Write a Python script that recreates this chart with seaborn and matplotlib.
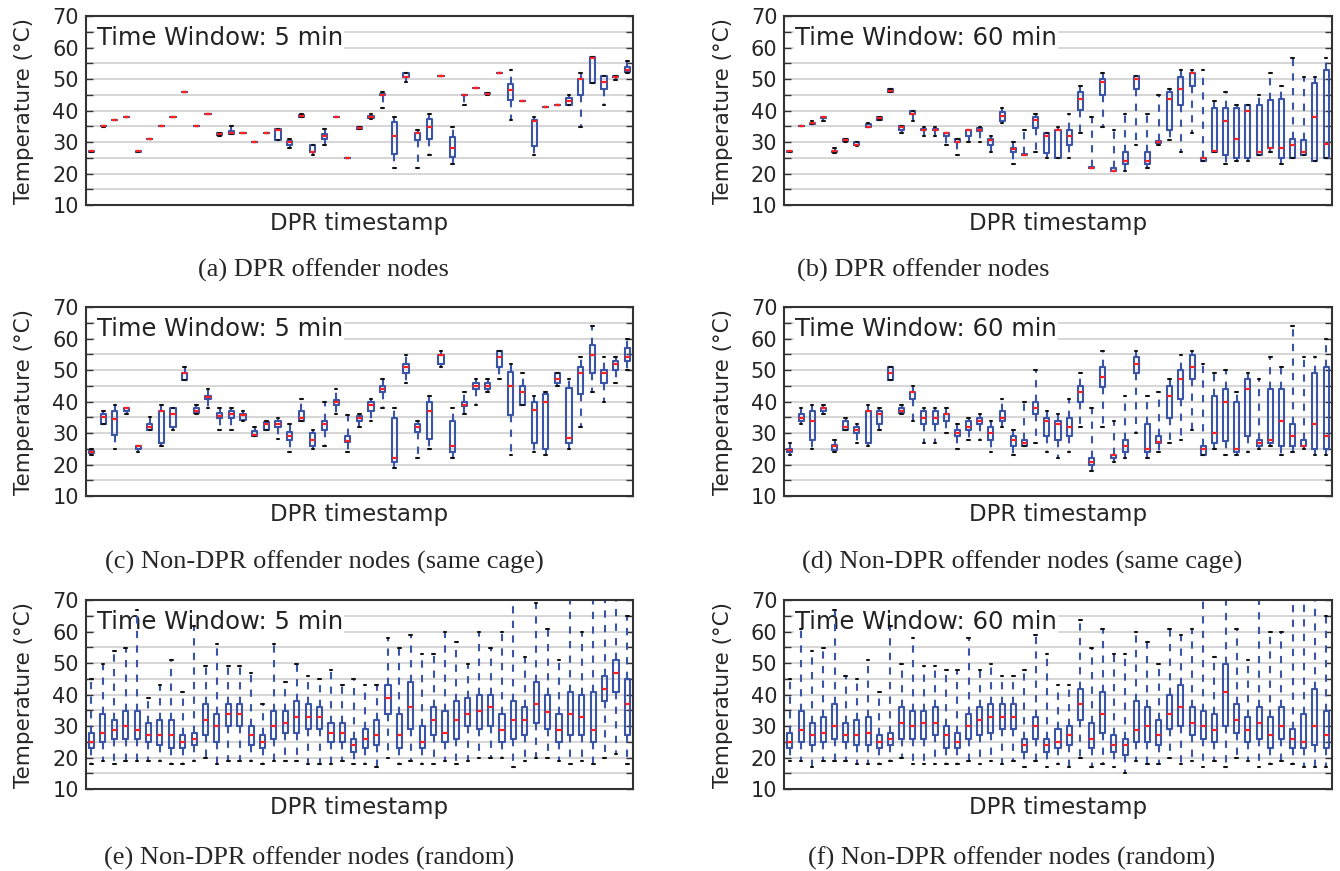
import matplotlib
matplotlib.use("Agg")
import matplotlib.pyplot as plt
import pandas as pd
import seaborn as sns

# one row per DPR timestamp: (whisker low, q1, median, q3, whisker high) in degC
dpr_5min = [
    (26.8, 26.9, 27.0, 27.1, 27.2), (34.9, 35.0, 35.0, 35.0, 35.1), (37, 37, 37, 37, 37),
    (38, 38, 38, 38, 38), (26.7, 26.8, 27.0, 27.2, 27.3), (31, 31, 31, 31, 31),
    (35, 35, 35, 35, 35), (38, 38, 38, 38, 38), (46, 46, 46, 46, 46),
    (35, 35, 35, 35, 35), (39, 39, 39, 39, 39), (32.0, 32.1, 32.4, 32.9, 33.0),
    (32.4, 32.6, 33.0, 33.5, 35.0), (33, 33, 33, 33, 33), (30, 30, 30, 30, 30),
    (33, 33, 33, 33, 33), (30.7, 30.7, 33.8, 34.0, 34.0), (28.0, 28.9, 30.0, 30.4, 30.9),
    (38.0, 38.1, 38.4, 38.7, 38.8), (26.0, 26.9, 26.9, 29.0, 29.0), (28.9, 30.9, 31.9, 32.5, 34.0),
    (38, 38, 38, 38, 38), (25, 25, 25, 25, 25), (34.0, 34.2, 34.4, 34.7, 34.8),
    (37.2, 37.6, 38.0, 38.4, 38.8), (40.9, 44.9, 45.0, 45.1, 45.9), (21.9, 26.3, 31.9, 36.4, 37.8),
    (48.9, 50.7, 50.8, 51.9, 52.0), (21.9, 30.8, 32.8, 33.0, 33.9), (25.9, 31.0, 34.8, 37.4, 38.8),
    (51, 51, 51, 51, 51), (22.9, 25.3, 28.0, 31.5, 34.8), (41.8, 44.9, 45.0, 45.0, 45.0),
    (47, 47, 47, 47, 47), (44.9, 45.1, 45.3, 45.5, 45.7), (52, 52, 52, 52, 52),
    (37.0, 43.5, 46.4, 48.5, 52.8), (43, 43, 43, 43, 43), (25.9, 28.8, 36.8, 36.9, 37.8),
    (41, 41, 41, 41, 41), (41.8, 41.8, 41.8, 41.8, 41.8), (41.7, 41.7, 43.0, 44.0, 44.9),
    (34.8, 44.8, 50.0, 50.1, 51.9), (48.8, 48.8, 56.8, 56.9, 56.9), (41.8, 46.7, 48.9, 50.9, 50.9),
    (49.8, 50.6, 50.8, 51.0, 51.0), (51.9, 52.2, 53.0, 53.8, 55.8),
]

dpr_60min = [
    (26.7, 26.8, 27.0, 27.1, 27.2), (35, 35, 35, 35, 35), (35.7, 35.8, 35.9, 36.1, 36.8),
    (36.8, 37.7, 37.9, 38.0, 38.0), (26.5, 26.7, 27.0, 27.3, 28.1), (30.0, 30.3, 30.8, 31.1, 31.1),
    (28.8, 28.9, 29.0, 30.0, 30.0), (34.7, 34.8, 34.8, 35.8, 35.9), (37.0, 37.0, 37.6, 37.8, 37.8),
    (45.9, 46.0, 46.2, 46.8, 46.8), (32.8, 33.9, 34.8, 35.0, 35.0), (36.8, 38.8, 38.9, 40.0, 40.0),
    (31.9, 33.8, 33.9, 34.0, 34.8), (31.9, 33.8, 33.9, 34.0, 34.8), (28.9, 31.8, 32.8, 32.9, 32.9),
    (25.9, 29.9, 30.0, 30.9, 30.9), (30.0, 31.9, 33.8, 33.9, 33.9), (30.0, 33.5, 33.9, 34.3, 34.8),
    (26.9, 28.9, 30.8, 30.9, 31.9), (35.9, 36.8, 38.4, 39.5, 40.9), (22.9, 26.9, 27.9, 28.0, 30.0),
    (25.8, 25.9, 26.0, 26.1, 33.9), (26.9, 34.3, 37.0, 37.9, 38.9), (25.0, 26.4, 31.9, 32.8, 32.8),
    (24.9, 24.9, 33.8, 33.9, 34.8), (24.9, 28.9, 31.9, 33.9, 38.9), (32.8, 40.3, 43.8, 45.8, 47.8),
    (21.8, 21.9, 21.9, 22.0, 37.8), (34.8, 44.8, 48.9, 49.9, 51.9), (20.8, 20.9, 20.9, 21.9, 33.9),
    (20.9, 22.9, 24.0, 26.9, 38.9), (28.9, 46.8, 49.9, 50.9, 50.9), (21.9, 22.9, 24.0, 26.9, 38.9),
    (28.9, 29.8, 30.0, 30.2, 44.8), (30.8, 33.9, 43.8, 45.8, 46.8), (26.9, 41.8, 46.9, 50.8, 52.8),
    (32.8, 47.9, 51.9, 51.9, 52.8), (24.0, 24.0, 24.9, 24.9, 52.8), (26.9, 26.9, 27.0, 40.9, 42.9),
    (22.9, 26.0, 36.8, 40.9, 45.8), (24.0, 24.9, 30.9, 40.9, 41.8), (24.0, 24.9, 39.9, 41.8, 41.8),
    (26.0, 26.0, 26.9, 41.8, 44.9), (26.9, 28.0, 28.0, 43.4, 51.9), (22.9, 24.9, 28.0, 43.8, 47.8),
    (24.9, 24.9, 28.9, 30.9, 56.7), (26.0, 26.0, 26.9, 30.6, 50.8), (24.0, 24.0, 37.9, 48.8, 50.8),
    (24.9, 24.9, 29.5, 52.8, 56.7),
]

cage_5min = [
    (23.0, 23.6, 24.0, 24.4, 24.9), (32.9, 32.9, 35.0, 36.0, 36.9), (24.9, 29.4, 34.5, 36.9, 38.9),
    (36.0, 36.9, 37.9, 38.0, 38.0), (24.0, 24.9, 25.9, 26.0, 26.0), (30.9, 30.9, 31.9, 32.9, 35.0),
    (26.0, 26.7, 36.9, 36.9, 38.9), (30.9, 31.9, 36.0, 38.0, 38.0), (46.9, 46.9, 48.9, 49.0, 50.9),
    (36.0, 36.4, 36.9, 37.9, 38.9), (38.0, 40.9, 41.5, 41.9, 43.9), (30.9, 34.9, 35.4, 36.4, 38.0),
    (30.9, 34.9, 36.0, 36.9, 38.0), (33.9, 34.0, 35.8, 36.0, 36.9), (29.0, 29.0, 29.5, 30.6, 31.9),
    (31.0, 31.0, 32.9, 33.5, 33.9), (28.0, 31.9, 32.9, 33.9, 34.9), (23.9, 27.9, 29.0, 30.4, 32.9),
    (33.9, 33.9, 34.9, 36.9, 40.9), (24.9, 25.8, 27.9, 30.0, 30.9), (26.0, 30.9, 32.9, 33.9, 40.0),
    (36.0, 38.9, 40.0, 40.4, 43.9), (24.0, 27.0, 27.4, 29.0, 35.8), (31.9, 33.9, 34.9, 35.3, 35.9),
    (33.9, 36.9, 38.9, 40.0, 40.9), (38.0, 42.9, 43.9, 45.0, 47.0), (19.0, 20.9, 22.0, 34.9, 38.0),
    (45.9, 48.9, 50.9, 51.9, 54.9), (22.0, 30.4, 31.9, 32.9, 33.9), (24.9, 28.1, 36.9, 39.7, 41.9),
    (50.9, 51.9, 54.8, 54.9, 55.9), (22.0, 24.0, 26.0, 33.9, 38.0), (36.0, 38.5, 38.9, 40.0, 42.9),
    (38.9, 43.9, 45.0, 45.9, 47.0), (42.9, 43.9, 45.0, 45.9, 47.0), (47.0, 50.9, 54.0, 55.9, 56.0),
    (23.0, 35.8, 45.0, 49.4, 51.9), (38.9, 38.9, 42.9, 45.0, 49.0), (24.0, 26.8, 37.4, 40.0, 41.9),
    (23.0, 24.9, 40.0, 42.4, 42.9), (45.0, 45.9, 47.0, 49.0, 49.0), (24.9, 26.8, 28.5, 44.4, 47.0),
    (31.9, 42.4, 49.0, 51.1, 54.0), (42.9, 49.0, 54.9, 58.0, 64.0), (40.0, 45.9, 49.0, 49.9, 54.0),
    (45.9, 49.9, 51.9, 52.9, 54.0), (49.9, 52.9, 54.0, 56.9, 59.9),
]

cage_60min = [
    (23.0, 24.0, 24.5, 24.9, 26.9), (32.9, 33.9, 34.9, 36.0, 38.0), (24.9, 27.9, 33.9, 36.9, 38.9),
    (36.0, 36.9, 37.9, 38.0, 38.9), (24.0, 24.5, 25.8, 26.2, 27.9), (30.9, 30.9, 31.9, 33.9, 34.9),
    (26.9, 29.9, 30.9, 31.9, 32.9), (26.0, 26.8, 36.9, 36.9, 38.9), (30.9, 32.9, 36.0, 36.9, 38.0),
    (46.9, 46.9, 49.0, 50.9, 50.9), (36.0, 36.4, 36.9, 38.0, 38.9), (33.9, 40.9, 42.9, 42.9, 45.0),
    (26.9, 32.9, 34.9, 36.9, 38.0), (26.9, 32.9, 34.9, 36.9, 38.0), (29.9, 33.9, 36.0, 36.0, 38.0),
    (24.9, 29.0, 29.9, 30.9, 32.9), (27.9, 30.9, 31.9, 33.9, 34.9), (27.9, 32.9, 33.9, 34.9, 36.0),
    (24.0, 27.9, 29.9, 31.9, 33.9), (31.9, 33.9, 34.9, 36.9, 40.9), (23.0, 26.0, 27.9, 29.0, 30.9),
    (26.0, 26.0, 26.9, 27.9, 40.0), (26.9, 36.0, 38.0, 40.0, 49.9), (24.0, 29.0, 33.9, 34.9, 36.9),
    (22.0, 27.9, 32.9, 33.9, 36.0), (24.0, 29.0, 31.9, 34.9, 40.9), (31.9, 40.0, 42.9, 45.0, 49.0),
    (17.9, 20.0, 20.9, 22.0, 38.0), (31.9, 44.6, 47.9, 50.9, 55.9), (20.9, 22.0, 22.9, 23.0, 33.9),
    (22.0, 24.0, 26.0, 27.9, 41.9), (29.9, 48.9, 51.9, 54.0, 55.9), (22.0, 24.0, 24.9, 32.9, 41.9),
    (24.0, 26.9, 27.0, 29.0, 42.9), (26.9, 34.9, 41.9, 45.0, 47.0), (27.9, 40.9, 47.0, 49.9, 54.9),
    (30.9, 47.0, 50.9, 54.9, 55.9), (23.0, 23.0, 24.9, 26.0, 51.9), (24.9, 26.8, 29.9, 41.9, 49.0),
    (23.0, 27.5, 40.0, 43.9, 49.9), (23.0, 24.0, 24.9, 40.0, 42.9), (24.0, 29.0, 43.9, 47.0, 49.0),
    (24.9, 26.0, 26.9, 27.9, 47.0), (26.0, 26.9, 27.9, 43.9, 54.0), (23.0, 26.0, 33.9, 43.9, 50.9),
    (24.0, 26.0, 29.0, 32.9, 64.0), (24.9, 26.0, 26.0, 27.9, 54.0), (23.0, 24.9, 32.9, 49.0, 54.0),
    (23.0, 24.9, 29.0, 50.9, 59.9),
]

random_5min = [
    (17.9, 22.9, 24.9, 27.9, 44.9), (19.0, 24.9, 27.9, 33.9, 49.8), (17.9, 25.9, 28.9, 31.9, 53.9),
    (19.0, 25.9, 29.9, 34.9, 54.8), (19.0, 25.9, 28.9, 34.9, 66.9), (19.0, 24.9, 27.0, 31.0, 38.9),
    (19.0, 24.0, 27.0, 31.9, 42.9), (17.9, 22.9, 27.0, 31.9, 50.9), (17.9, 22.9, 24.9, 27.0, 40.9),
    (19.0, 24.0, 25.9, 27.9, 61.8), (20.0, 27.0, 31.9, 36.9, 48.9), (17.9, 24.9, 29.9, 33.9, 55.9),
    (19.0, 29.9, 33.9, 36.9, 48.9), (19.0, 29.9, 33.9, 36.9, 48.9), (19.0, 24.0, 27.0, 29.9, 46.9),
    (17.9, 22.9, 24.9, 27.0, 36.9), (19.0, 25.9, 29.9, 34.9, 55.9), (19.0, 27.9, 31.0, 34.9, 43.9),
    (19.0, 27.9, 33.0, 37.9, 49.8), (17.9, 29.0, 33.0, 36.9, 45.9), (17.9, 29.0, 33.0, 36.0, 44.9),
    (17.9, 24.9, 27.9, 31.0, 47.9), (19.0, 24.9, 27.9, 31.0, 42.9), (17.9, 21.9, 24.0, 25.9, 44.9),
    (17.9, 22.9, 25.9, 29.0, 42.9), (17.1, 24.0, 27.0, 31.9, 42.9), (20.0, 33.9, 38.9, 42.9, 57.9),
    (17.9, 22.9, 27.0, 33.9, 54.8), (19.0, 29.0, 36.0, 43.9, 58.9), (17.9, 22.9, 24.9, 29.9, 52.9),
    (17.9, 27.0, 31.9, 36.0, 52.9), (19.0, 24.9, 27.9, 34.9, 59.8), (17.9, 25.9, 31.9, 37.9, 56.8),
    (19.0, 29.9, 33.9, 38.9, 49.8), (20.0, 29.0, 34.9, 39.9, 59.8), (20.0, 29.9, 36.0, 39.9, 54.8),
    (20.0, 24.9, 28.9, 33.9, 59.8), (17.1, 25.9, 31.9, 37.9, 71.0), (19.0, 27.0, 31.9, 36.0, 51.8),
    (20.0, 31.0, 36.9, 43.9, 68.9), (20.0, 29.0, 34.4, 39.9, 60.8), (19.0, 24.9, 28.9, 33.9, 50.9),
    (17.9, 27.0, 33.9, 40.9, 72.0), (19.0, 27.0, 33.0, 39.9, 59.8), (17.9, 24.9, 28.9, 40.9, 72.0),
    (20.0, 37.9, 41.9, 45.9, 72.0), (21.0, 40.9, 46.9, 50.9, 72.0), (17.9, 27.0, 36.9, 44.9, 64.9),
]

random_60min = [
    (19.0, 22.9, 24.9, 27.9, 44.9), (19.0, 24.9, 28.9, 34.9, 60.8), (17.1, 24.0, 27.0, 31.0, 53.9),
    (19.0, 24.9, 27.9, 33.0, 54.8), (19.0, 25.9, 29.9, 36.9, 66.9), (19.0, 24.9, 27.0, 31.0, 45.9),
    (17.9, 24.0, 27.0, 31.9, 44.9), (17.9, 24.0, 27.9, 33.0, 50.9), (17.9, 22.9, 24.9, 27.0, 40.9),
    (19.0, 24.0, 25.9, 27.9, 61.8), (20.0, 25.9, 31.0, 36.0, 49.8), (17.9, 25.9, 29.9, 34.9, 57.9),
    (17.9, 25.9, 31.0, 34.9, 48.9), (17.9, 27.0, 31.0, 36.0, 48.9), (17.9, 22.9, 27.0, 29.9, 47.9),
    (17.9, 22.9, 24.9, 27.9, 47.9), (19.0, 25.9, 29.9, 33.9, 57.9), (17.9, 27.0, 31.9, 36.0, 47.9),
    (19.0, 27.9, 33.0, 36.9, 49.8), (17.9, 29.0, 33.0, 36.9, 45.9), (19.0, 29.0, 33.0, 36.9, 45.9),
    (17.1, 21.9, 24.0, 25.9, 47.9), (19.0, 25.9, 29.9, 33.0, 58.8), (17.1, 21.9, 24.0, 25.9, 52.9),
    (17.9, 22.9, 24.9, 29.0, 42.9), (17.1, 24.0, 27.0, 29.9, 42.9), (20.0, 31.9, 36.9, 41.9, 63.8),
    (17.1, 22.9, 25.9, 31.0, 54.8), (17.9, 27.9, 33.9, 40.9, 60.8), (17.1, 21.9, 24.0, 27.0, 52.9),
    (15.0, 20.9, 24.0, 25.9, 52.9), (19.0, 24.9, 28.9, 37.9, 59.8), (17.9, 24.9, 29.9, 36.0, 56.8),
    (17.9, 24.0, 27.0, 31.9, 49.8), (20.0, 29.0, 33.9, 39.9, 60.8), (17.9, 29.9, 36.0, 42.9, 58.8),
    (19.0, 27.0, 31.0, 36.0, 60.8), (17.1, 25.9, 29.9, 34.9, 72.0), (19.0, 24.9, 28.9, 33.9, 51.8),
    (17.1, 29.9, 40.9, 49.8, 72.0), (20.0, 27.9, 31.9, 36.9, 60.8), (19.0, 24.9, 28.9, 33.0, 50.9),
    (17.1, 25.9, 31.0, 36.0, 72.0), (17.9, 22.9, 27.0, 33.0, 59.8), (19.0, 25.9, 29.9, 36.0, 59.8),
    (17.9, 22.9, 25.9, 29.0, 72.0), (17.1, 22.9, 24.9, 33.9, 72.0), (17.1, 24.0, 29.9, 41.9, 72.0),
    (17.1, 22.9, 27.0, 34.9, 64.9),
]

windows = ["Time Window: 5 min", "Time Window: 60 min"]
captions = [
    "(a) DPR offender nodes", "(b) DPR offender nodes",
    "(c) Non-DPR offender nodes (same cage)", "(d) Non-DPR offender nodes (same cage)",
    "(e) Non-DPR offender nodes (random)", "(f) Non-DPR offender nodes (random)",
]
panels = [dpr_5min, dpr_60min, cage_5min, cage_60min, random_5min, random_60min]

BLUE = "#3a55a8"

sns.set_theme(style="white")
plt.rcParams["font.family"] = ["DejaVu Sans"]


def to_frame(rows):
    # five observations per timestamp so the quartiles land on the read values
    recs = [(i, v) for i, r in enumerate(rows) for v in r]
    return pd.DataFrame(recs, columns=["timestamp", "temp"])


fig = plt.figure(figsize=(13.4, 8.71), dpi=100)
lefts = [0.064, 0.5853]
bottoms = [0.7646, 0.4305, 0.0941]
cap_y = [0.690, 0.3548, 0.0149]
cap_x = [[0.241, 0.689], [0.242, 0.763], [0.231, 0.755]]

for k, rows in enumerate(panels):
    r, c = divmod(k, 2)
    ax = fig.add_axes([lefts[c], bottoms[r], 0.4085, 0.217])
    sns.boxplot(data=to_frame(rows), x="timestamp", y="temp", ax=ax,
                whis=(0, 100), fill=False, width=0.45, color=BLUE, linewidth=1.5,
                showfliers=False,
                medianprops=dict(color="#ff2020", linewidth=1.6),
                whiskerprops=dict(color=BLUE, linestyle=(0, (3.5, 3.5)), linewidth=1.5),
                capprops=dict(color="#111111", linewidth=1.5),
                boxprops=dict(color=BLUE, linewidth=1.5))
    ax.set_ylim(10, 70)
    ax.set_yticks(range(10, 71, 10))
    ax.set_yticks(range(15, 70, 10), minor=True)
    ax.set_xticks([])
    ax.set_axisbelow(True)
    ax.grid(True, axis="y", which="both", color="#cfcfcf", linewidth=1.2)
    ax.tick_params(axis="y", which="both", direction="in", left=True, right=True,
                   length=5, width=1, color="#333333", labelsize=15, pad=5)
    for s in ax.spines.values():
        s.set_color("#333333")
        s.set_linewidth(1.5)
    ax.set_ylabel("Temperature (°C)", fontsize=15.5, labelpad=13)
    ax.set_xlabel("DPR timestamp", fontsize=16.5, labelpad=5)
    ax.text(0.02, 0.885, windows[c], transform=ax.transAxes, fontsize=17.5,
            va="center", ha="left", color="#222222", zorder=1.8,
            bbox=dict(facecolor="white", edgecolor="none", pad=1))
    fig.text(cap_x[r][c], cap_y[r], captions[k], ha="center", va="center",
             fontsize=19, family="Liberation Serif")

fig.savefig("out.png", dpi=100)
